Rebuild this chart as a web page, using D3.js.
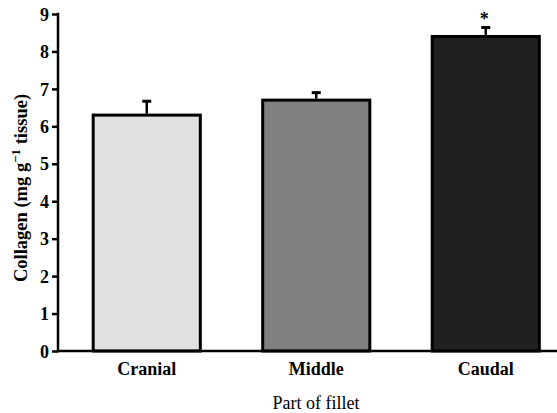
<!DOCTYPE html>
<html><head><meta charset="utf-8">
<script src="https://cdn.jsdelivr.net/npm/d3@7"></script>
<style>body{margin:0;background:#fff}svg{display:block}text{font-family:"Liberation Serif","Times New Roman",serif}</style>
</head><body><svg id="c" width="557" height="413"></svg>
<script>
const categories = ["Cranial", "Middle", "Caudal"];
const values = [6.3, 6.7, 8.4];
const errors = [0.37, 0.2, 0.24];
const fills = ["#e0e0e0", "#808080", "#202020"];
const yTicks = [0,1,2,3,4,5,6,7,8,9];
const marks = ["", "", "*"];

const FONT = '"Liberation Serif","Times New Roman",serif';
const svg = d3.select("#c");
const y = d3.scaleLinear().domain([0, 9]).range([351, 14]);
const x = d3.scaleBand().domain(categories).range([62, 570.5]).paddingInner(0.368).paddingOuter(0.184);

// bars
svg.selectAll("rect.bar").data(categories).join("rect")
  .attr("x", d => x(d)).attr("width", x.bandwidth())
  .attr("y", (d,i) => y(values[i])).attr("height", (d,i) => y(0) - y(values[i]))
  .attr("fill", (d,i) => fills[i]).attr("stroke", "#000").attr("stroke-width", 3);

// error bars
const g = svg.append("g");
categories.forEach((c,i) => {
  const cx = x(c) + x.bandwidth()/2;
  g.append("line").attr("x1", cx).attr("x2", cx).attr("y1", y(values[i]) - 1.5).attr("y2", y(values[i] + errors[i]))
    .attr("stroke", "#000").attr("stroke-width", 2.5);
  g.append("line").attr("x1", cx - 4.5).attr("x2", cx + 4.5).attr("y1", y(values[i] + errors[i])).attr("y2", y(values[i] + errors[i]))
    .attr("stroke", "#000").attr("stroke-width", 3);
  if (marks[i]) g.append("text").attr("x", cx - 1.5).attr("y", y(values[i] + errors[i]) - 2)
    .attr("text-anchor", "middle").attr("font-size", 18).attr("font-weight", "bold")
    .attr("font-family", FONT).text(marks[i]);
});

// y axis
const yAxis = svg.append("g").attr("transform", "translate(58,0)")
  .call(d3.axisLeft(y).tickValues(yTicks).tickSize(6).tickPadding(3).tickFormat(d3.format("d")));
yAxis.attr("font-family", FONT);
yAxis.select(".domain").remove();
yAxis.selectAll(".tick line").attr("stroke", "#000").attr("stroke-width", 2.5);
yAxis.selectAll(".tick text").attr("font-size", 18).attr("font-weight", "bold").attr("fill", "#000")
  .attr("font-family", FONT).attr("dy", "0.34em");
svg.append("line").attr("x1", 58).attr("x2", 58).attr("y1", y(9) - 1.25).attr("y2", y(0) + 1.25)
  .attr("stroke", "#000").attr("stroke-width", 2.5);

// x axis
svg.append("line").attr("x1", 57).attr("x2", 557).attr("y1", y(0)).attr("y2", y(0))
  .attr("stroke", "#000").attr("stroke-width", 2.5);
const xAxis = svg.append("g").attr("transform", `translate(0,${y(0)})`)
  .call(d3.axisBottom(x).tickSize(0).tickPadding(11));
xAxis.attr("font-family", FONT);
xAxis.select(".domain").remove();
xAxis.selectAll(".tick text").attr("font-size", 18).attr("font-weight", "bold").attr("fill", "#000")
  .attr("font-family", FONT);

// titles
svg.append("text").attr("x", 316).attr("y", 409).attr("text-anchor", "middle").attr("font-size", 18)
  .attr("font-family", FONT).text("Part of fillet");
const yl = svg.append("text").attr("transform", "translate(27,188) rotate(-90)").attr("text-anchor", "middle")
  .attr("font-size", 18.5).attr("font-weight", "bold").attr("font-family", FONT);
yl.append("tspan").text("Collagen (mg g");
yl.append("tspan").attr("dy", -7).attr("font-size", 13).text("\u2212");
yl.append("tspan").attr("font-size", 13).text("1");
yl.append("tspan").attr("dy", 7).text(" tissue)");
</script></body></html>
